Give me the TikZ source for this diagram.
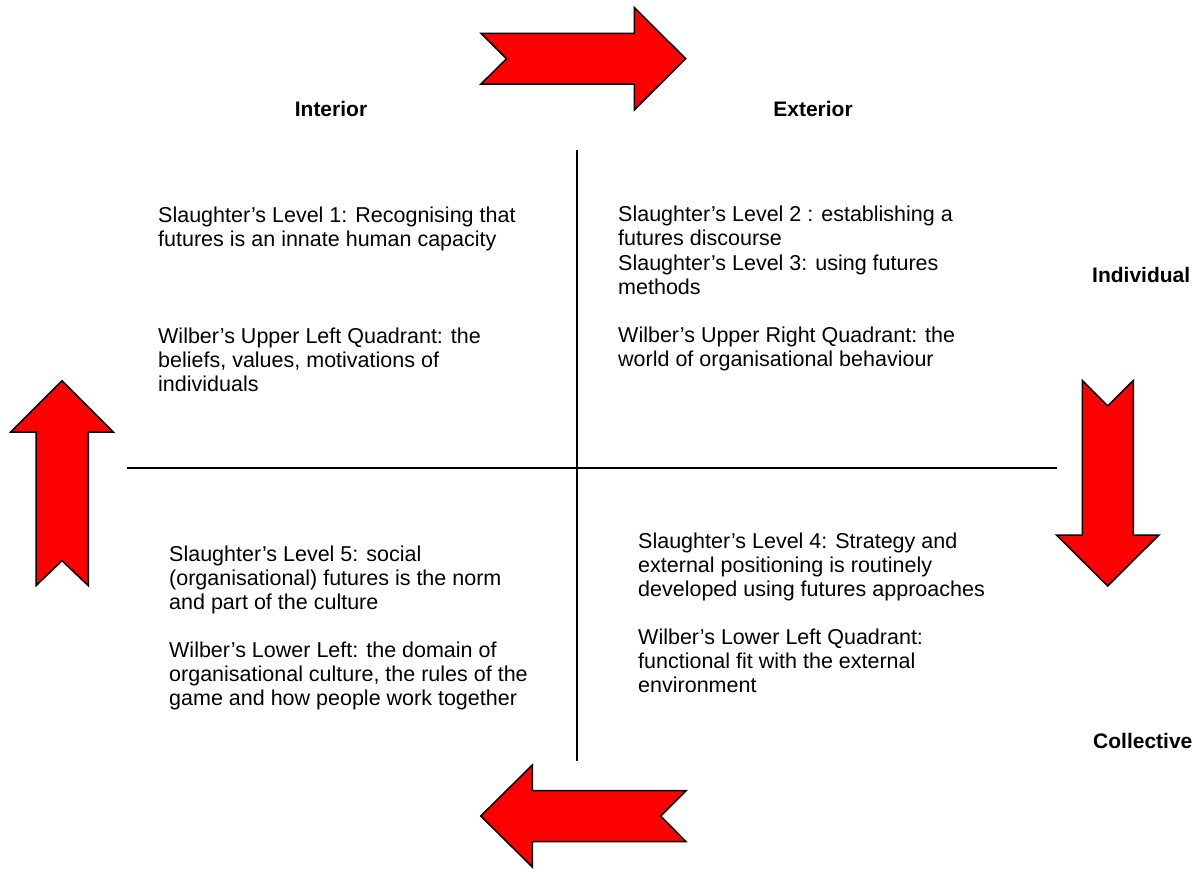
\documentclass[tikz,border=0pt]{standalone}
\usepackage{fontspec}
\setmainfont{Liberation Sans}
\begin{document}
\begin{tikzpicture}[x=1pt,y=-1pt,
  body/.style={anchor=north west,inner sep=0pt,align=left,
    font=\fontsize{21.5}{24.2}\selectfont},
  axislabel/.style={inner sep=0pt,font=\fontsize{21}{24}\selectfont\bfseries},
  axisline/.style={line width=1.3pt,black},
  bigarrow/.style={fill=red,draw=black,line width=1.5pt,line join=miter}]
\useasboundingbox (0,0) rectangle (1200,868);

% quadrant axes
\coordinate (vtop) at (577,150);
\coordinate (vbot) at (577,761);
\coordinate (hleft) at (127,468);
\coordinate (hright) at (1057,468);
\draw[axisline] (vtop) -- (vbot);
\draw[axisline] (hleft) -- (hright);

% block arrows
\draw[bigarrow] (481,33.3) -- (634.3,33.3) -- (634.3,7.5) -- (685.7,58.7)
  -- (634.3,109.9) -- (634.3,84) -- (481,84) -- (506.5,58.7) -- cycle;
\draw[bigarrow] (62,380.7) -- (113.3,432) -- (88.3,432) -- (88.3,585.7)
  -- (62,560.7) -- (36,585.7) -- (36,432) -- (10.7,432) -- cycle;
\draw[bigarrow] (1082.3,380.5) -- (1107.7,406) -- (1133.3,380.5) -- (1133.3,535)
  -- (1159,535) -- (1107.7,586) -- (1056.4,535) -- (1082.3,535) -- cycle;
\draw[bigarrow] (480.7,816) -- (532.3,765) -- (532.3,790.7) -- (686,790.7)
  -- (660.7,816) -- (686,841.7) -- (532.3,841.7) -- (532.3,867) -- cycle;

% axis labels
\node[axislabel,anchor=base] (interior) at (331,116) {Interior};
\node[axislabel,anchor=base] (exterior) at (813,116) {Exterior};
\node[axislabel,anchor=base west] (individual) at (1092,282) {Individual};
\node[axislabel,anchor=base west] (collective) at (1093,748) {Collective};

% upper left quadrant
\node[body] (ulA) at (158,205) {\strut Slaughter’s Level 1: Recognising that\\
  futures is an innate human capacity};
\node[body] (ulB) at (158,326) {\strut Wilber’s Upper Left Quadrant: the\\
  beliefs, values, motivations of\\ individuals};

% upper right quadrant
\node[body] (urA) at (618,204.5) {\strut Slaughter’s Level 2 : establishing a\\
  futures discourse\\ Slaughter’s Level 3: using futures\\ methods};
\node[body] (urB) at (618,325) {\strut Wilber’s Upper Right Quadrant: the\\
  world of organisational behaviour};

% lower left quadrant
\node[body] (llA) at (169,544) {\strut Slaughter’s Level 5: social\\
  (organisational) futures is the norm\\ and part of the culture};
\node[body] (llB) at (169,640) {\strut Wilber’s Lower Left: the domain of\\
  organisational culture, the rules of the\\ game and how people work together};

% lower right quadrant
\node[body] (lrA) at (638,531) {\strut Slaughter’s Level 4: Strategy and\\
  external positioning is routinely\\ developed using futures approaches};
\node[body] (lrB) at (638,627) {\strut Wilber’s Lower Left Quadrant:\\
  functional fit with the external\\ environment};
\end{tikzpicture}
\end{document}
